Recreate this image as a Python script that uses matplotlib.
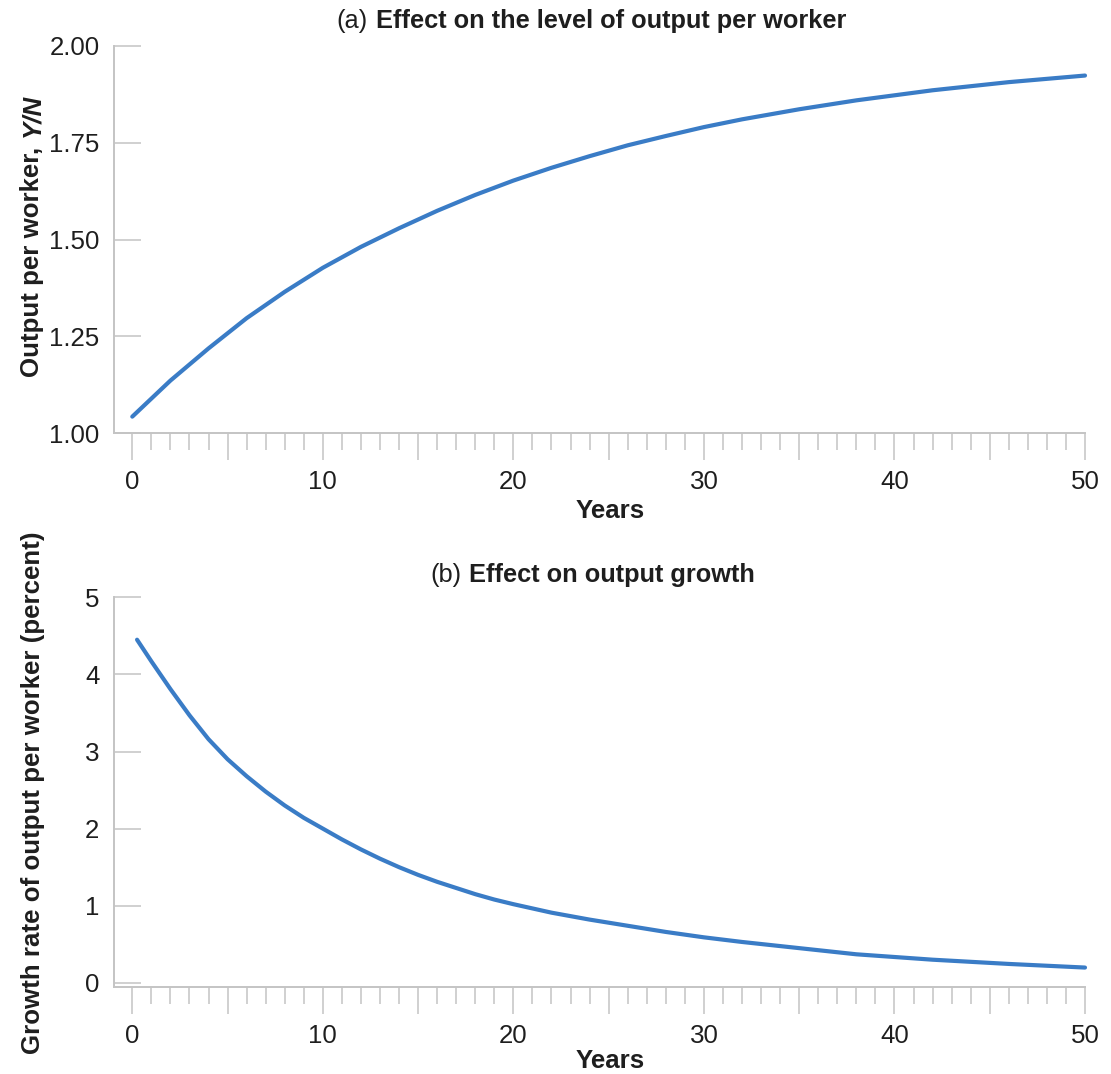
import matplotlib
matplotlib.use("Agg")
import matplotlib.pyplot as plt
from matplotlib.ticker import MultipleLocator, FixedLocator, FixedFormatter

# ---------------- data ----------------
years_a = [0, 2, 4, 6, 8, 10, 12, 14, 16, 18, 20, 22, 24, 26, 28, 30, 32, 35, 38, 42, 46, 50]
output_per_worker = [1.043, 1.136, 1.219, 1.297, 1.365, 1.427, 1.481, 1.529, 1.574, 1.615,
                     1.652, 1.685, 1.715, 1.743, 1.767, 1.790, 1.810, 1.836, 1.859, 1.885,
                     1.906, 1.923]

years_b = [0.25, 1, 2, 3, 4, 5, 6, 7, 8, 9, 10, 11, 12, 13, 14, 15, 16, 17, 18, 19, 20,
           22, 24, 26, 28, 30, 32, 35, 38, 42, 46, 50]
growth_rate = [4.45, 4.17, 3.81, 3.47, 3.16, 2.90, 2.68, 2.48, 2.30, 2.14, 2.00, 1.86, 1.73,
               1.61, 1.50, 1.40, 1.31, 1.23, 1.15, 1.08, 1.02, 0.91, 0.82, 0.74, 0.66, 0.59,
               0.53, 0.45, 0.37, 0.30, 0.245, 0.198]

x_major = [0, 5, 10, 15, 20, 25, 30, 35, 40, 45, 50]
x_labels = ["0", "", "10", "", "20", "", "30", "", "40", "", "50"]
y_ticks_a = [1.00, 1.25, 1.50, 1.75, 2.00]
y_labels_a = ["1.00", "1.25", "1.50", "1.75", "2.00"]
y_ticks_b = [0, 1, 2, 3, 4, 5]
y_labels_b = ["0", "1", "2", "3", "4", "5"]

title_a_prefix = "(a)"
title_a = "Effect on the level of output per worker"
title_b_prefix = "(b)"
title_b = "Effect on output growth"
ylabel_a = "Output per worker, "
ylabel_a_sym = "Y/N"
ylabel_b = "Growth rate of output per worker (percent)"
xlabel = "Years"

# ---------------- style ----------------
plt.rcParams['font.family'] = ['Liberation Sans', 'DejaVu Sans']
FS = 18.6
FS_TITLE = 18.3
LINE = "#3a7cc6"
GRID = "#c4c4c4"
TXT = "#1e1e1e"

W, H = 1111, 1074
fig = plt.figure(figsize=(W / 100, H / 100), dpi=100)
fig.patch.set_facecolor("white")


def fx(px):
    return px / W


def fy(py):
    return 1 - py / H


ax1 = fig.add_axes([fx(114), fy(433.3), fx(1085) - fx(114), fy(45.7) - fy(433.3)])
ax2 = fig.add_axes([fx(114), fy(987.3), fx(1085) - fx(114), fy(597.3) - fy(987.3)])


def style(ax, yticks, ylabels, ylim):
    ax.set_xlim(-0.96, 50)
    ax.set_ylim(*ylim)
    for s in ["top", "right"]:
        ax.spines[s].set_visible(False)
    for s in ["left", "bottom"]:
        ax.spines[s].set_color(GRID)
        ax.spines[s].set_linewidth(1.4)
    ax.xaxis.set_major_locator(FixedLocator(x_major))
    ax.xaxis.set_major_formatter(FixedFormatter(x_labels))
    ax.xaxis.set_minor_locator(MultipleLocator(1))
    ax.tick_params(axis="x", which="major", direction="out", length=19.4, width=1.1,
                   color=GRID, pad=7, labelsize=FS, labelcolor=TXT)
    ax.tick_params(axis="x", which="minor", direction="out", length=12, width=1.1,
                   color=GRID)
    ax.yaxis.set_major_locator(FixedLocator(yticks))
    ax.yaxis.set_major_formatter(FixedFormatter(ylabels))
    ax.tick_params(axis="y", which="major", direction="in", length=19.4, width=1.1,
                   color=GRID, pad=10.5, labelsize=FS, labelcolor=TXT)
    ax.set_facecolor("white")


ax1.plot(years_a, output_per_worker, color=LINE, lw=3.0, solid_capstyle="round",
         solid_joinstyle="round", clip_on=False)
ax2.plot(years_b, growth_rate, color=LINE, lw=3.0, solid_capstyle="round",
         solid_joinstyle="round", clip_on=False)
style(ax1, y_ticks_a, y_labels_a, (1.0, 2.0))
style(ax2, y_ticks_b, y_labels_b, (-0.058, 5.0))

# titles
fig.text(fx(336), fy(21), title_a_prefix, fontsize=FS_TITLE, color=TXT, ha="left", va="center")
fig.text(fx(376), fy(21), title_a, fontsize=FS_TITLE, fontweight="bold", color=TXT,
         ha="left", va="center")
fig.text(fx(430), fy(575), title_b_prefix, fontsize=FS_TITLE, color=TXT, ha="left", va="center")
fig.text(fx(469), fy(575), title_b, fontsize=FS_TITLE, fontweight="bold", color=TXT,
         ha="left", va="center")

# x labels
fig.text(fx(610), fy(511), xlabel, fontsize=FS, fontweight="bold", color=TXT,
         ha="center", va="center")
fig.text(fx(610), fy(1061), xlabel, fontsize=FS, fontweight="bold", color=TXT,
         ha="center", va="center")

# y labels
t1 = fig.text(fx(32), fy(377), ylabel_a, fontsize=FS, fontweight="bold", color=TXT,
              rotation=90, ha="center", va="bottom")
fig.canvas.draw()
bb = t1.get_window_extent(renderer=fig.canvas.get_renderer())
top_px = bb.y1  # display coords from bottom
fig.text(fx(32), (top_px + 2) / H, ylabel_a_sym, fontsize=FS, fontweight="bold",
         fontstyle="italic", color=TXT, rotation=90, ha="center", va="bottom")
fig.text(fx(33), fy(793), ylabel_b, fontsize=FS, fontweight="bold", color=TXT,
         rotation=90, ha="center", va="center")

fig.savefig("out.png", dpi=100, facecolor="white")
